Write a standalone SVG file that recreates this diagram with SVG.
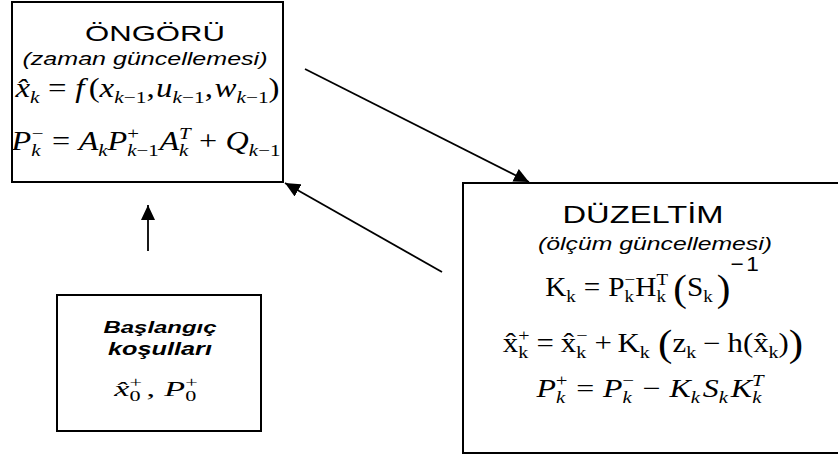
<svg xmlns="http://www.w3.org/2000/svg" width="838" height="455" viewBox="0 0 838 455">
<style>
.box{fill:#fff;stroke:#000;stroke-width:2}
.lbl{font-family:"Liberation Sans",Arial,sans-serif;fill:#000}
.it{font-style:italic}
.bi{font-style:italic;font-weight:bold}
.m{font-family:"Liberation Serif","Times New Roman",serif;font-style:italic;fill:#000}
.up{font-family:"Liberation Serif","Times New Roman",serif;font-style:normal;fill:#000}
.r{font-style:normal}
.s{font-size:65%}
.big{font-size:140%}
.sans{font-family:"Liberation Sans",Arial,sans-serif;font-style:normal}
.con{stroke:#000;stroke-width:1.8;fill:none}
</style>
<defs>
<marker id="ah" markerUnits="userSpaceOnUse" markerWidth="16" markerHeight="14" refX="15" refY="7" orient="auto">
<path d="M0,0 L15,7 L0,14 Z" fill="#000"/>
</marker>
</defs>
<rect width="838" height="455" fill="#fff"/>

<g id="connectors">
<line class="con" x1="305" y1="69" x2="529" y2="182" marker-end="url(#ah)"/>
<line class="con" x1="442" y1="272" x2="285" y2="183" marker-end="url(#ah)"/>
<line class="con" x1="148" y1="251" x2="148" y2="205" marker-end="url(#ah)"/>
</g>

<g id="ongoru">
<rect class="box" x="12" y="2" width="271" height="180"/>
<text class="lbl" x="155" y="41" font-size="22" text-anchor="middle" textLength="140" lengthAdjust="spacingAndGlyphs">ÖNGÖRÜ</text>
<text class="lbl it" x="145" y="65" font-size="18" text-anchor="middle" textLength="245" lengthAdjust="spacingAndGlyphs">(zaman güncellemesi)</text>
<g transform="translate(147.5,97) scale(1.43,1.18)">
<text class="m" font-size="23" text-anchor="middle"><tspan>x̂</tspan><tspan class="s" dy="5">k</tspan><tspan class="r" dx="6" dy="-5">=</tspan><tspan dx="6">f</tspan><tspan class="r" dx="3">(</tspan><tspan>x</tspan><tspan class="s" dy="5">k</tspan><tspan class="s r">−1</tspan><tspan class="r" dy="-5">,</tspan><tspan dx="1">u</tspan><tspan class="s" dy="5">k</tspan><tspan class="s r">−1</tspan><tspan class="r" dy="-5">,</tspan><tspan dx="1">w</tspan><tspan class="s" dy="5">k</tspan><tspan class="s r">−1</tspan><tspan class="r" dy="-5">)</tspan></text>
</g>
<g transform="translate(146,150) scale(1.4,1.18)">
<text class="m" font-size="23" text-anchor="middle"><tspan>P</tspan><tspan class="s" dy="5">k</tspan><tspan class="s r" dx="-6.2" dy="-14">−</tspan><tspan class="r" dx="6" dy="9">=</tspan><tspan dx="6">A</tspan><tspan class="s" dy="5">k</tspan><tspan dy="-5">P</tspan><tspan class="s" dy="5">k</tspan><tspan class="s r">−1</tspan><tspan class="s r" dx="-22.5" dy="-14">+</tspan><tspan dx="14.5" dy="9">A</tspan><tspan class="s" dy="5">k</tspan><tspan class="s" dx="-6.7" dy="-14">T</tspan><tspan class="r" dx="6" dy="9">+</tspan><tspan dx="6">Q</tspan><tspan class="s" dy="5">k</tspan><tspan class="s r">−1</tspan></text>
</g>
</g>

<g id="duzeltim">
<rect class="box" x="463" y="183" width="390" height="270"/>
<text class="lbl" x="643" y="223" font-size="23" text-anchor="middle" textLength="161" lengthAdjust="spacingAndGlyphs">DÜZELTİM</text>
<text class="lbl it" x="655" y="250" font-size="18" text-anchor="middle" textLength="234" lengthAdjust="spacingAndGlyphs">(ölçüm güncellemesi)</text>
<g transform="translate(652,296) scale(1.33,1.22)">
<text class="up" font-size="22" text-anchor="middle"><tspan>K</tspan><tspan class="s" dy="5">k</tspan><tspan dx="6" dy="-5">=</tspan><tspan dx="6">P</tspan><tspan class="s" dy="5">k</tspan><tspan class="s" dx="-7.15" dy="-14">−</tspan><tspan dy="9">H</tspan><tspan class="s" dy="5">k</tspan><tspan class="s" dx="-7.15" dy="-14">T</tspan><tspan class="big" dx="4" dy="13">(</tspan><tspan dy="-4">S</tspan><tspan class="s" dy="5">k</tspan><tspan class="big" dx="3" dy="-1">)</tspan><tspan class="sans" font-size="17" dy="-24.5">−</tspan><tspan class="sans" font-size="17" dx="2">1</tspan></text>
</g>
<g transform="translate(653,352) scale(1.4,1.2)">
<text class="up" font-size="22" text-anchor="middle"><tspan>x̂</tspan><tspan class="s" dy="5">k</tspan><tspan class="s" dx="-7.15" dy="-14">+</tspan><tspan dx="5" dy="9">=</tspan><tspan dx="5">x̂</tspan><tspan class="s" dy="5">k</tspan><tspan class="s" dx="-7.15" dy="-14">−</tspan><tspan dx="5" dy="9">+</tspan><tspan dx="4">K</tspan><tspan class="s" dy="5">k</tspan><tspan class="big" dx="6" dy="-2">(</tspan><tspan dy="-3">z</tspan><tspan class="s" dy="5">k</tspan><tspan dx="5" dy="-5">−</tspan><tspan dx="5">h</tspan><tspan>(x̂</tspan><tspan class="s" dy="5">k</tspan><tspan dy="-5">)</tspan><tspan class="big" dy="3">)</tspan></text>
</g>
<g transform="translate(650,397) scale(1.45,1.18)">
<text class="m" font-size="22" text-anchor="middle"><tspan>P</tspan><tspan class="s" dy="5">k</tspan><tspan class="s r" dx="-6.4" dy="-14">+</tspan><tspan class="r" dx="6" dy="9">=</tspan><tspan dx="6">P</tspan><tspan class="s" dy="5">k</tspan><tspan class="s r" dx="-6.4" dy="-14">−</tspan><tspan class="r" dx="6" dy="9">−</tspan><tspan dx="6">K</tspan><tspan class="s" dy="5">k</tspan><tspan dx="2" dy="-5">S</tspan><tspan class="s" dy="5">k</tspan><tspan dx="2" dy="-5">K</tspan><tspan class="s" dy="5">k</tspan><tspan class="s" dx="-6.4" dy="-14">T</tspan></text>
</g>
</g>

<g id="baslangic">
<rect class="box" x="57" y="295" width="204" height="136"/>
<text class="lbl bi" x="160" y="333" font-size="17" text-anchor="middle" textLength="113" lengthAdjust="spacingAndGlyphs">Başlangıç</text>
<text class="lbl bi" x="160" y="355" font-size="17.5" text-anchor="middle" textLength="104" lengthAdjust="spacingAndGlyphs">koşulları</text>
<g transform="translate(156,396) scale(1.55,1)">
<text class="m" font-size="22" text-anchor="middle"><tspan>x̂</tspan><tspan class="s r" dy="5">0</tspan><tspan class="s r" dx="-7.15" dy="-14">+</tspan><tspan class="r" dx="3" dy="9">,</tspan><tspan dx="6">P</tspan><tspan class="s r" dy="5">0</tspan><tspan class="s r" dx="-7.15" dy="-14">+</tspan></text>
</g>
</g>
</svg>
